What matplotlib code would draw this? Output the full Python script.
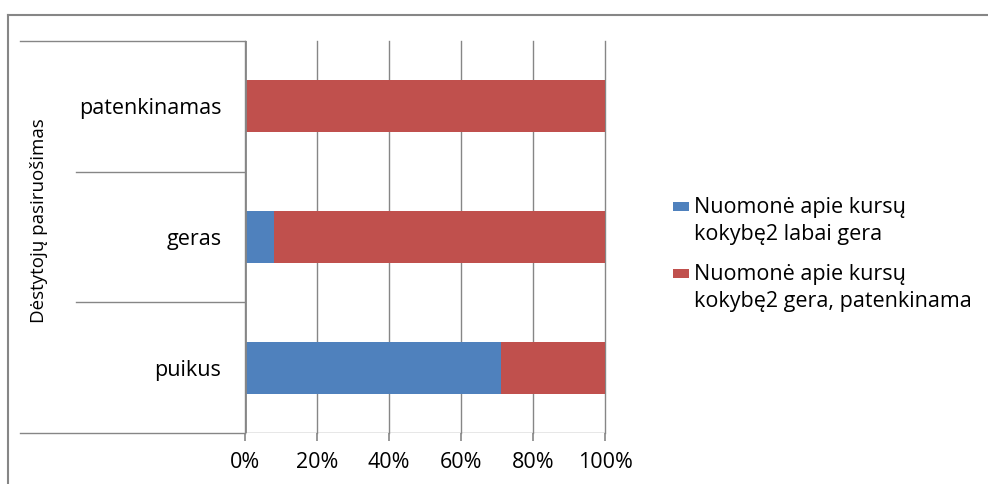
import numpy as np
import matplotlib
matplotlib.use("Agg")
import matplotlib.pyplot as plt
from matplotlib.lines import Line2D
from matplotlib.patches import Rectangle

plt.rcParams['font.family'] = ['Open Sans', 'DejaVu Sans']

# data (percent shares per category)
categories = ["puikus", "geras", "patenkinamas"]
labai_gera = [71, 8, 0]
gera_patenkinama = [29, 92, 100]
series_names = ["Nuomonė apie kursų\nkokybę2 labai gera",
                "Nuomonė apie kursų\nkokybę2 gera, patenkinama"]
colors = ["#4F81BD", "#C0504D"]
xticks = [0, 20, 40, 60, 80, 100]
xtick_labels = ["0%", "20%", "40%", "60%", "80%", "100%"]
ylabel = "Dėstytojų pasiruošimas"

W, H = 988, 484
fig = plt.figure(figsize=(W / 100, H / 100), dpi=100)
ax = fig.add_axes([245 / W, 1 - 433 / H, 360 / W, (433 - 41) / H])

y = np.arange(len(categories))
ax.barh(y, labai_gera, height=0.4, color=colors[0], zorder=3)
ax.barh(y, gera_patenkinama, left=labai_gera, height=0.4, color=colors[1], zorder=3)

ax.set_xlim(0, 100)
ax.set_ylim(-0.5, len(categories) - 0.5)
ax.set_xticks(xticks)
ax.set_xticklabels(xtick_labels, fontsize=15.5)
ax.set_yticks(y)
ax.set_yticklabels(categories, fontsize=15.5)
ax.tick_params(axis='y', length=0, pad=17)
ax.tick_params(axis='x', length=6, width=1.2, color="#868686", pad=8)

for s in ax.spines.values():
    s.set_visible(False)
ax.grid(axis='x', color="#868686", linewidth=1.0, zorder=0)
for g in ax.get_xgridlines():
    g.set_clip_on(False)
ax.axvline(0, color="#868686", linewidth=2.0, zorder=4)
ax.axhline(-0.5, color="#868686", linewidth=1.0, zorder=4)

# category separators extending left of the plot
tr = ax.get_yaxis_transform()
for b in np.arange(-0.5, len(categories)):
    x0 = -225 / 360 if b in (-0.5, len(categories) - 0.5) else -169 / 360
    ax.add_line(Line2D([x0, 0], [b, b], transform=tr, color="#868686",
                       linewidth=1.0, clip_on=False))

fig.text(39 / W, 1 - 221 / H, ylabel, rotation=90, ha='center', va='center', fontsize=13.5)

# legend
leg_y = [207, 274]
for name, c, ly in zip(series_names, colors, leg_y):
    fig.add_artist(Rectangle((673 / W, 1 - (ly + 4) / H), 16 / W, 9 / H,
                             facecolor=c, edgecolor='none', transform=fig.transFigure))
    fig.text(694 / W, 1 - (ly - 10) / H, name, ha='left', va='top', fontsize=15.5,
             linespacing=1.4)

# outer frame (top and left)
fig.add_artist(Line2D([8 / W, 1], [1 - 15 / H, 1 - 15 / H], color="#868686", linewidth=1.5))
fig.add_artist(Line2D([8 / W, 8 / W], [0, 1 - 15 / H], color="#868686", linewidth=1.5))

fig.savefig("out.png", dpi=100)
